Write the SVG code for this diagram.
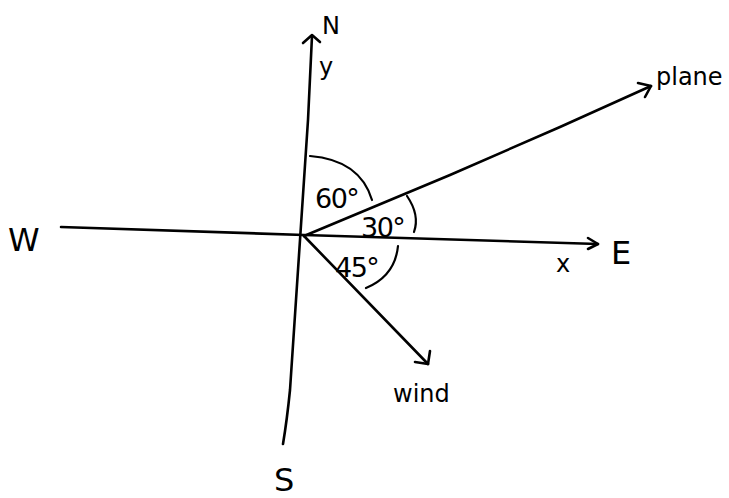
<svg xmlns="http://www.w3.org/2000/svg" width="729" height="498" viewBox="0 0 729 498">
<style>
.ln{fill:none;stroke:#000;stroke-width:2.6;stroke-linecap:round;stroke-linejoin:round}
.arc{fill:none;stroke:#000;stroke-width:2.2;stroke-linecap:round}
text{font-family:"DejaVu Sans","Liberation Sans",sans-serif;fill:#000}
.lb{font-size:24px}
.ang{font-size:27px;letter-spacing:-1.5px}
.big{font-size:32px}
</style>
<rect width="729" height="498" fill="#fff"/>
<g id="connectors">
<path id="y-axis" class="ln" d="M283,444 Q287,420 290,390 L300,240 L308,120 L312,36"/>
<polyline class="ln" points="303,43 312,35 320,42"/>
<path id="x-axis" class="ln" d="M61,227 L304,235 L598,244"/>
<polyline class="ln" points="588,238 598,244 588,249"/>
<path id="plane-vec" class="ln" d="M304,236 L450,175 L560,127 L651,86"/>
<polyline class="ln" points="638,83 651,86 645,97"/>
<path id="wind-vec" class="ln" d="M304,236 L428,364"/>
<polyline class="ln" points="415,362 428,364 430,351"/>
</g>
<g id="angle-60">
<path class="arc" d="M310,156 Q360,160 372,200"/>
<text class="ang" x="315" y="208">60°</text>
</g>
<g id="angle-30">
<path class="arc" d="M407,196 Q420,215 414,232"/>
<text class="ang" x="361" y="237">30°</text>
</g>
<g id="angle-45">
<path class="arc" d="M398,246 Q395,276 366,288"/>
<text class="ang" x="335" y="277">45°</text>
</g>
<g id="label-N"><text class="lb" x="322" y="34">N</text></g>
<g id="label-y"><text class="lb" x="319" y="75">y</text></g>
<g id="label-W"><text class="big" x="8" y="251">W</text></g>
<g id="label-E"><text class="big" x="611" y="264">E</text></g>
<g id="label-x"><text class="lb" x="556" y="272">x</text></g>
<g id="label-S"><text class="big" x="274" y="491">S</text></g>
<g id="label-plane"><text class="lb" x="656" y="85">plane</text></g>
<g id="label-wind"><text class="lb" x="393" y="402">wind</text></g>
</svg>
